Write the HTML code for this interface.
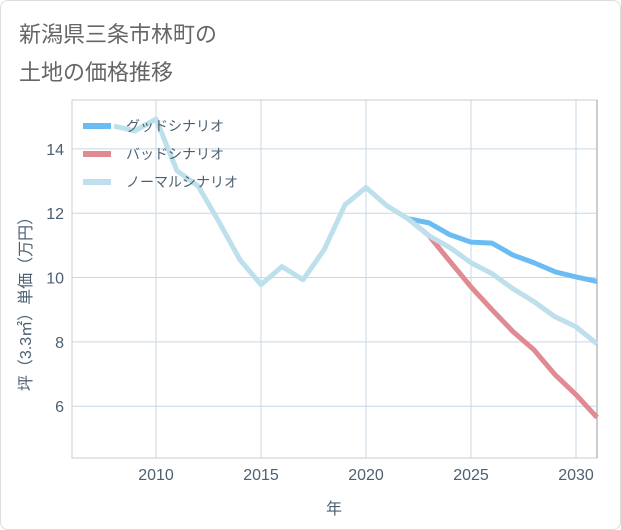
<!DOCTYPE html>
<html><head><meta charset="utf-8"><style>
body{margin:0;background:#fff;font-family:"Liberation Sans","Noto Sans CJK JP",sans-serif}
#wrap{position:relative;width:619px;height:528px;border:1px solid #ddd;border-radius:8px;overflow:hidden}
.t{position:absolute;left:18px;font-size:22px;color:#666}
</style></head><body>
<div id="wrap">
<div class="t" style="top:16px">新潟県三条市林町の</div>
<div class="t" style="top:54px">土地の価格推移</div>
<svg id="c" width="621" height="530" style="position:absolute;left:-1px;top:-1px"></svg>
</div>
<script>
const years=[2008,2009,2010,2011,2012,2013,2014,2015,2016,2017,2018,2019,2020,2021,2022,2023,2024,2025,2026,2027,2028,2029,2030,2031];
const normal=[14.71,14.56,14.93,13.32,12.85,11.73,10.55,9.78,10.34,9.93,10.86,12.26,12.8,12.23,11.83,11.3,10.93,10.46,10.12,9.65,9.25,8.78,8.47,7.94];
const goodYears=[2022,2023,2024,2025,2026,2027,2028,2029,2030,2031];
const good=[11.83,11.7,11.33,11.1,11.07,10.7,10.46,10.18,10.02,9.88];
const bad=[11.83,11.3,10.5,9.71,9.0,8.32,7.75,6.98,6.36,5.65];
const xTicks=[2010,2015,2020,2025,2030];
const yTicks=[6,8,10,12,14];
const L=72,R=597,T=100,B=458,x0=2006,x1=2031,y0=4.39,y1=15.52;
const X=v=>L+(v-x0)/(x1-x0)*(R-L), Y=v=>B-(v-y0)/(y1-y0)*(B-T);
const svg=document.getElementById('c'),NS='http://www.w3.org/2000/svg';
const TC='#4d6072';
function mk(t,a,p){const e=document.createElementNS(NS,t);for(const k in a)e.setAttribute(k,a[k]);(p||svg).appendChild(e);return e;}
mk('rect',{x:L,y:T,width:R-L,height:B-T,fill:'none',stroke:'#ccc'});
mk('line',{x1:R,x2:R,y1:T,y2:B,stroke:'#999'});
xTicks.forEach(v=>{const l=mk('line',{x1:X(v),x2:X(v),y1:T,y2:B,stroke:'#c9d8e4'});


const t=mk('text',{x:X(v),y:B+22,'text-anchor':'middle','font-size':16,fill:TC});t.textContent=v;

});
yTicks.forEach(v=>{const l=mk('line',{x1:L,x2:R,y1:Y(v),y2:Y(v),stroke:'#c9d8e4'});


const t=mk('text',{x:L-8,y:Y(v)+6,'text-anchor':'end','font-size':16,fill:TC});t.textContent=v;

});
function line(xs,ys,c,n){const p=mk('polyline',{points:xs.map((x,i)=>X(x)+','+Y(ys[i])).join(' '),fill:'none',stroke:c,'stroke-width':5,'stroke-linejoin':'round'});

}
line(goodYears,good,'#6bbcf2','good-scenario-line');
line(goodYears,bad,'#e08a92','bad-scenario-line');
line(years,normal,'#bde0ec','normal-scenario-line');
const leg=[['グッドシナリオ','#6bbcf2'],['バッドシナリオ','#e08a92'],['ノーマルシナリオ','#bde0ec']];
leg.forEach((d,i)=>{const y=126+i*28;
const l=mk('line',{x1:83,x2:111,y1:y,y2:y,stroke:d[1],'stroke-width':6});


const t=mk('text',{x:126,y:y+5,'font-size':14,fill:TC});t.textContent=d[0];

});
const xt=mk('text',{x:334,y:514,'text-anchor':'middle','font-size':16,fill:TC});xt.textContent='年';


const yt=mk('text',{x:0,y:0,'text-anchor':'middle','font-size':16,fill:TC,transform:'translate(31,300) rotate(-90)'});yt.textContent='坪（3.3㎡）単価（万円）';


</script>
</body></html>
